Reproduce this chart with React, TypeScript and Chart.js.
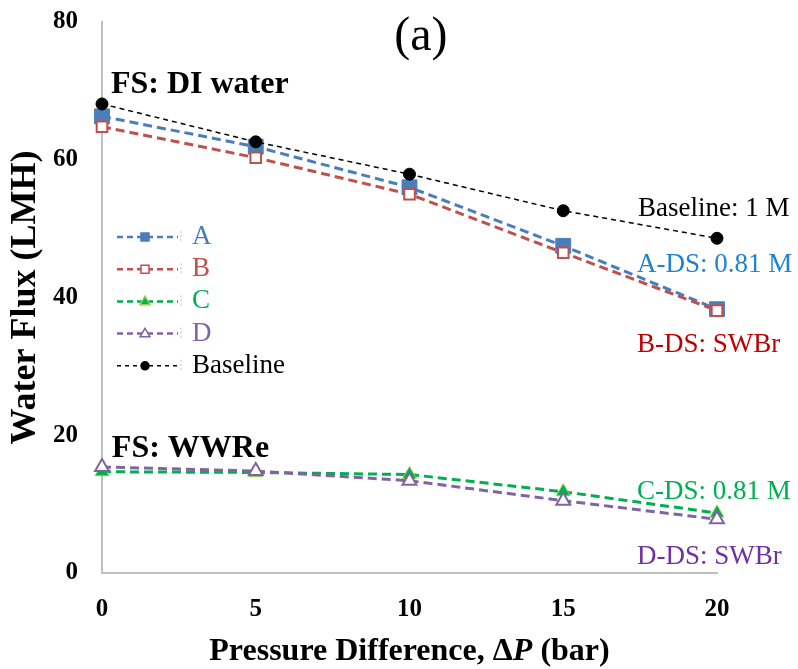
import React, { useEffect, useRef } from "react";
import { Chart, registerables } from "chart.js";

Chart.register(...registerables);

const pressure = [0, 5, 10, 15, 20];
const fluxA = [66.3, 61.9, 56, 47.5, 38.3];
const fluxB = [64.8, 60.3, 55, 46.5, 38.1];
const fluxC = [14.7, 14.6, 14.3, 11.8, 8.7];
const fluxD = [15.4, 14.8, 13.4, 10.5, 7.8];
const fluxBaseline = [68.1, 62.6, 57.9, 52.6, 48.6];

const xTicks = [0, 5, 10, 15, 20];
const yTicks = [0, 20, 40, 60, 80];

const legendLabels = ["A", "B", "C", "D", "Baseline"];

const SERIF = "'Liberation Serif', 'Times New Roman', serif";

const toPts = (vals: number[]) => vals.map((v, i) => ({ x: pressure[i], y: v }));

// annotation anchors in data space (left edge / vertical middle)
const annotations = [
  { text: "FS: DI water", x: 0.29, y: 70.9, color: "#000000", font: `bold 32px ${SERIF}`, align: "left" },
  { text: "FS: WWRe", x: 0.32, y: 18.1, color: "#000000", font: `bold 32px ${SERIF}`, align: "left" },
  { text: "(a)", x: 10.37, y: 77.8, color: "#000000", font: `48px ${SERIF}`, align: "center" },
  { text: "Baseline: 1 M", x: 17.43, y: 52.8, color: "#000000", font: `27px ${SERIF}`, align: "left" },
  { text: "A-DS: 0.81 M", x: 17.4, y: 44.7, color: "#1F82D2", font: `27px ${SERIF}`, align: "left" },
  { text: "B-DS: SWBr", x: 17.4, y: 33.1, color: "#C00000", font: `27px ${SERIF}`, align: "left" },
  { text: "C-DS: 0.81 M", x: 17.4, y: 11.8, color: "#00B050", font: `27px ${SERIF}`, align: "left" },
  { text: "D-DS: SWBr", x: 17.4, y: 2.3, color: "#7030A0", font: `27px ${SERIF}`, align: "left" },
];

const styles = [
  { line: "#4A7EBB", dash: [9, 5], width: 3, point: "rect", fill: "#4A7EBB", border: "#4A7EBB", text: "#4A7EBB" },
  { line: "#C0504D", dash: [9, 5], width: 3, point: "rect", fill: "#FFFFFF", border: "#C0504D", text: "#C0504D" },
  { line: "#00B050", dash: [9, 5], width: 3, point: "triangle", fill: "#00B050", border: "#92D050", text: "#00B050" },
  { line: "#8064A2", dash: [9, 5], width: 3, point: "triangle", fill: "#FFFFFF", border: "#8064A2", text: "#8064A2" },
  { line: "#000000", dash: [5, 4], width: 1.5, point: "circle", fill: "#000000", border: "#000000", text: "#000000" },
];

const drawMarker = (ctx: CanvasRenderingContext2D, kind: string, x: number, y: number, r: number, fill: string, border: string, bw: number) => {
  ctx.save();
  ctx.setLineDash([]);
  ctx.fillStyle = fill;
  ctx.strokeStyle = border;
  ctx.lineWidth = bw;
  ctx.beginPath();
  if (kind === "rect") {
    ctx.rect(x - r, y - r, 2 * r, 2 * r);
  } else if (kind === "triangle") {
    ctx.moveTo(x, y - r * 1.05);
    ctx.lineTo(x + r, y + r * 0.65);
    ctx.lineTo(x - r, y + r * 0.65);
    ctx.closePath();
  } else {
    ctx.arc(x, y, r, 0, Math.PI * 2);
  }
  ctx.fill();
  ctx.stroke();
  ctx.restore();
};

const overlayPlugin = {
  id: "overlay",
  afterDraw(chart: any) {
    const ctx: CanvasRenderingContext2D = chart.ctx;
    const xs = chart.scales.x;
    const ys = chart.scales.y;
    const area = chart.chartArea;
    ctx.save();
    // annotations
    annotations.forEach((a) => {
      ctx.font = a.font;
      ctx.fillStyle = a.color;
      ctx.textAlign = a.align as CanvasTextAlign;
      ctx.textBaseline = "middle";
      ctx.fillText(a.text, xs.getPixelForValue(a.x), ys.getPixelForValue(a.y));
    });

    // custom legend
    const lx0 = area.left + 15;
    const lx1 = area.left + 76;
    const mx = area.left + 43;
    const tx = area.left + 90;
    const rowY0 = area.top + 215;
    const rowH = 32.2;
    legendLabels.forEach((lab, i) => {
      const s = styles[i];
      const y = rowY0 + i * rowH;
      ctx.save();
      ctx.strokeStyle = s.line;
      ctx.lineWidth = i === 4 ? 1.5 : 2.5;
      ctx.setLineDash(i === 4 ? [4, 4] : [6, 4]);
      ctx.beginPath();
      ctx.moveTo(lx0, y);
      ctx.lineTo(lx1, y);
      ctx.stroke();
      ctx.strokeStyle = "#BFBFBF";
      ctx.lineWidth = 1;
      ctx.setLineDash([2, 2]);
      ctx.beginPath();
      ctx.moveTo(lx1 + 3, y - 6);
      ctx.lineTo(lx1 + 3, y + 6);
      ctx.stroke();
      ctx.restore();
      const r = s.point === "circle" ? 4 : s.point === "triangle" ? 5 : 4;
      drawMarker(ctx, s.point, mx, y, r, s.fill, s.border, 1.5);
      ctx.font = `27px ${SERIF}`;
      ctx.fillStyle = s.text;
      ctx.textAlign = "left";
      ctx.textBaseline = "middle";
      ctx.fillText(lab, tx, y);
    });

    // x-axis title with italic P
    const parts = [
      { t: "Pressure Difference, \u0394", f: `bold 32px ${SERIF}` },
      { t: "P", f: `italic bold 32px ${SERIF}` },
      { t: " (bar)", f: `bold 32px ${SERIF}` },
    ];
    let total = 0;
    parts.forEach((p) => {
      ctx.font = p.f;
      total += ctx.measureText(p.t).width;
    });
    let cx = (area.left + area.right) / 2 - total / 2;
    const ty = area.bottom + 79;
    ctx.fillStyle = "#000000";
    ctx.textAlign = "left";
    ctx.textBaseline = "middle";
    parts.forEach((p) => {
      ctx.font = p.f;
      ctx.fillText(p.t, cx, ty);
      cx += ctx.measureText(p.t).width;
    });
    ctx.restore();
  },
};

export default function App() {
  const ref = useRef<HTMLCanvasElement>(null);
  useEffect(() => {
    document.body.style.margin = "0";
    const canvas = ref.current;
    if (!canvas) return;
    const mk = (label: string, vals: number[], i: number, radius: number, order: number) => {
      const s = styles[i];
      return {
        label,
        data: toPts(vals),
        borderColor: s.line,
        borderWidth: s.width,
        borderDash: s.dash,
        backgroundColor: s.fill,
        pointStyle: s.point,
        pointRadius: radius,
        pointBackgroundColor: s.fill,
        pointBorderColor: s.border,
        pointBorderWidth: i === 1 || i === 3 ? 2 : 1,
        tension: 0,
        fill: false,
        clip: false as any,
        order,
      };
    };
    const chart = new Chart(canvas, {
      type: "line",
      data: {
        datasets: [
          mk("A", fluxA, 0, 10.5, 2),
          mk("B", fluxB, 1, 7.5, 1),
          mk("C", fluxC, 2, 8, 4),
          mk("D", fluxD, 3, 8, 3),
          mk("Baseline", fluxBaseline, 4, 6, 0),
        ] as any,
      },
      options: {
        responsive: false,
        animation: false,
        layout: { autoPadding: false, padding: { left: 0, right: 81, top: 22, bottom: 0 } },
        plugins: { legend: { display: false }, tooltip: { enabled: false }, title: { display: false } },
        scales: {
          x: {
            type: "linear",
            min: 0,
            max: 20,
            afterBuildTicks: (scale: any) => {
              scale.ticks = xTicks.map((v) => ({ value: v }));
            },
            afterFit: (scale: any) => {
              scale.height = 96;
              scale.paddingLeft = 0;
              scale.paddingRight = 0;
            },
            grid: { display: false, drawTicks: false },
            border: { display: true, color: "#BFBFBF", width: 2 },
            ticks: {
              font: { family: SERIF, size: 25, weight: "bold" },
              color: "#000000",
              padding: 22,
              maxRotation: 0,
            },
          },
          y: {
            type: "linear",
            min: 0,
            max: 80,
            afterBuildTicks: (scale: any) => {
              scale.ticks = yTicks.map((v) => ({ value: v }));
            },
            afterFit: (scale: any) => {
              scale.width = 102;
              scale.paddingTop = 0;
              scale.paddingBottom = 0;
            },
            grid: { display: false, drawTicks: false },
            border: { display: true, color: "#BFBFBF", width: 2 },
            ticks: {
              font: { family: SERIF, size: 25, weight: "bold" },
              color: "#000000",
              padding: 24,
            },
            title: {
              display: true,
              text: "Water Flux (LMH)",
              font: { family: SERIF, size: 36, weight: "bold" },
              color: "#000000",
              padding: { top: 4, bottom: 0 },
            },
          },
        },
      } as any,
      plugins: [overlayPlugin],
    });
    return () => chart.destroy();
  }, []);
  return (
    <div style={{ width: 798, height: 669, background: "#ffffff" }}>
      <canvas ref={ref} width={798} height={669} style={{ display: "block" }} />
    </div>
  );
}
